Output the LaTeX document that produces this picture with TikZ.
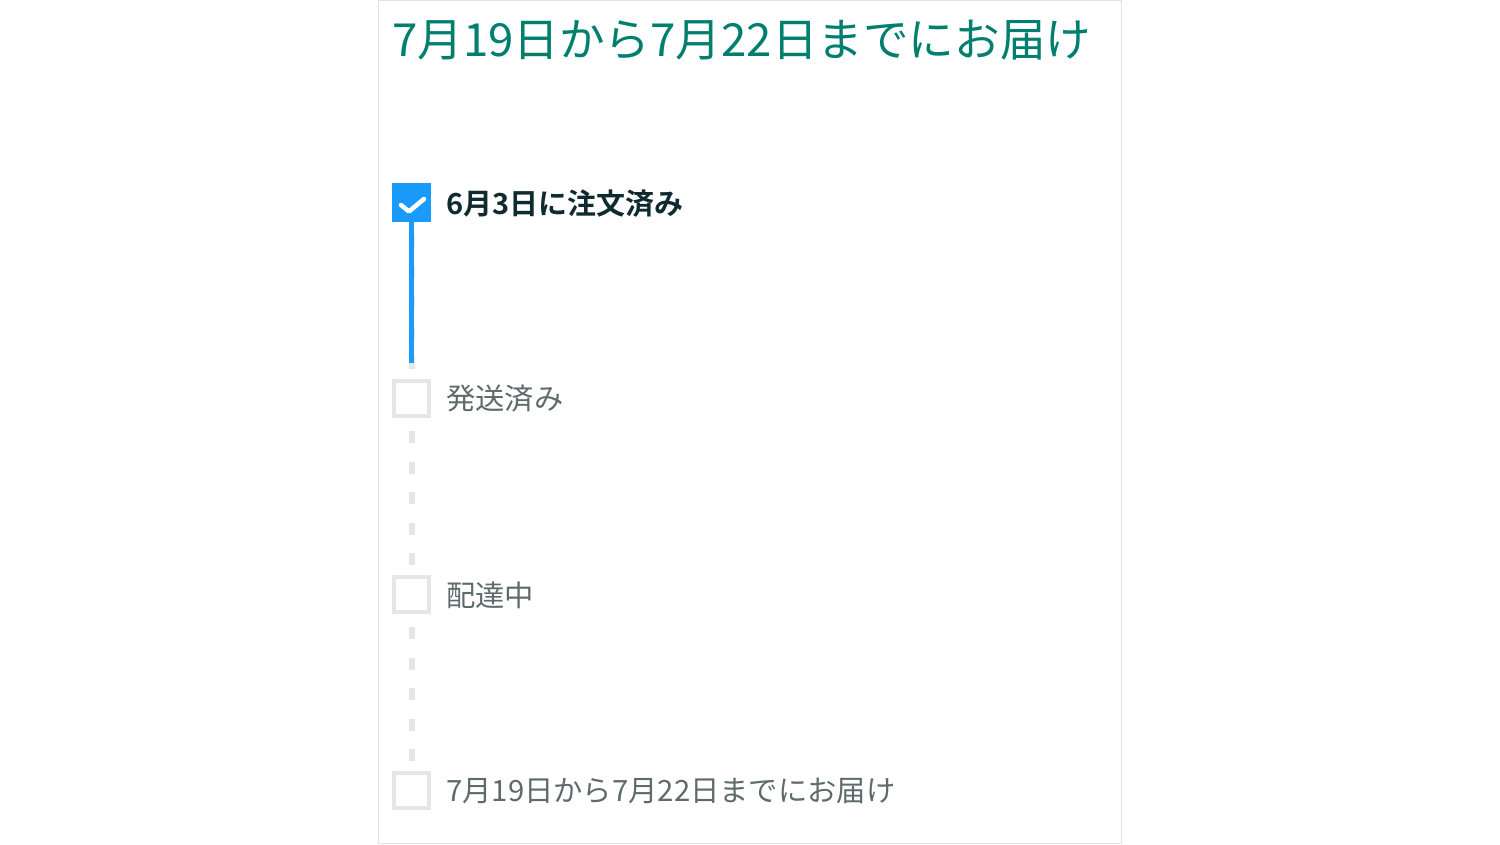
\documentclass[tikz,border=0pt]{standalone}
\usepackage{fontspec}
\newfontfamily\jp{Noto Sans CJK JP}
\newfontfamily\jpb{Noto Sans CJK JP Bold}
\definecolor{teal}{HTML}{007F6E}
\definecolor{chkblue}{HTML}{1A9BFC}
\definecolor{boxgray}{HTML}{E6E6E6}
\definecolor{framegray}{HTML}{E3E3E3}
\definecolor{labelgray}{HTML}{5F6B6B}
\definecolor{labeldark}{HTML}{0F2B2E}
\tikzset{
  donebox/.style={fill=chkblue, draw=none, minimum size=39pt, inner sep=0pt},
  openbox/.style={draw=boxgray, line width=4pt, fill=white, minimum size=35pt, inner sep=0pt},
  lbl/.style={anchor=west, inner sep=0pt, font=\jp\fontsize{29.3pt}{32pt}\selectfont, text=labelgray},
  lbldone/.style={anchor=west, inner sep=0pt, font=\jpb\fontsize{29pt}{32pt}\selectfont, text=labeldark},
  pending/.style={draw=boxgray, line width=6pt, dash pattern=on 12pt off 18.5pt, dash phase=17.5pt},
  progress/.style={draw=chkblue, line width=5pt}
}
\begin{document}
\begin{tikzpicture}[x=1pt,y=-1pt]
\useasboundingbox (0,0) rectangle (1500,844);
\draw[framegray, line width=1pt] (378.5,0.5) rectangle (1121.5,843.5);
\node[anchor=west, inner sep=0pt, font=\jp\fontsize{45.6pt}{50pt}\selectfont, text=teal] (title) at (392,40) {7月19日から7月22日までにお届け};
\node[donebox] (b1) at (411.5,202.5) {};
\node[openbox] (b2) at (411.5,398.5) {};
\node[openbox] (b3) at (411.5,594.5) {};
\node[openbox] (b4) at (411.5,790.5) {};
\coordinate (pend) at (411.5,363);
\draw[pending] (b1.south) -- (b2.north);
\draw[pending] (b2.south) -- (b3.north);
\draw[pending] (b3.south) -- (b4.north);
\draw[progress] (b1.south) -- (pend);
\draw[white, line width=4.5pt, line cap=round, line join=round] ([xshift=-10.5pt,yshift=-2.5pt]b1.center) -- ([xshift=-2.5pt,yshift=-9pt]b1.center) -- ([xshift=12.5pt,yshift=3.5pt]b1.center);
\node[lbldone] (l1) at (446,204) {6月3日に注文済み};
\node[lbl] (l2) at (446,399) {発送済み};
\node[lbl] (l3) at (446,595) {配達中};
\node[lbl] (l4) at (446,791) {7月19日から7月22日までにお届け};
\end{tikzpicture}
\end{document}
